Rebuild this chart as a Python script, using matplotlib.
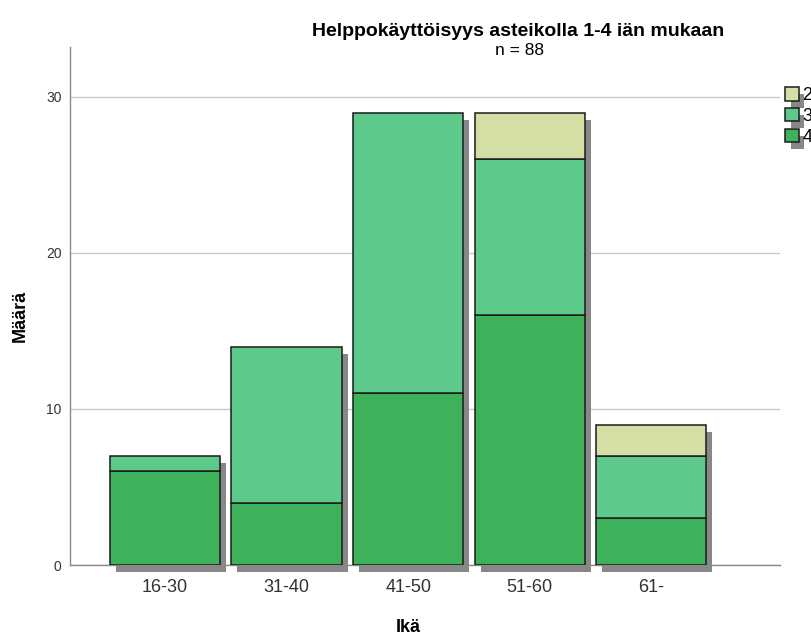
#!/usr/bin/env python3
"""
Helppokäyttöisyys asteikolla 1-4 iän mukaan - stacked bar chart
"""

import numpy as np
import matplotlib
matplotlib.use('Agg')
import matplotlib.pyplot as plt
import matplotlib.transforms as mtransforms
import matplotlib.patheffects as pe

plt.rcParams['font.family'] = ['Liberation Sans', 'DejaVu Sans']

# Data
age_groups = ['16-30', '31-40', '41-50', '51-60', '61-']
score_4 = [6, 4, 11, 16, 3]
score_3 = [1, 10, 18, 10, 4]
score_2 = [0, 0, 0, 3, 2]

colors = {'4': '#3db25a', '3': '#5dca8c', '2': '#d3dfa5'}

fig = plt.figure(figsize=(8.11, 6.35), dpi=100)
ax = fig.add_axes([0.0863, 0.1102, 0.8755, 0.8158])

x = np.arange(len(age_groups))
width = 0.905

s4 = np.array(score_4)
s3 = np.array(score_3)
s2 = np.array(score_2)
totals = s4 + s3 + s2

# Shadows behind the stacks
shadow_tr = mtransforms.offset_copy(ax.transData, fig=fig, x=6, y=-7, units='dots')
ax.bar(x, totals, width, color='#878787', edgecolor='none', transform=shadow_tr,
       zorder=2, clip_on=False)

edge = '#1a1a1a'
b4 = ax.bar(x, s4, width, color=colors['4'], edgecolor=edge, linewidth=1.1, zorder=3, label='4')
b3 = ax.bar(x, s3, width, bottom=s4, color=colors['3'], edgecolor=edge, linewidth=1.1,
            zorder=3, label='3')
mask = s2 > 0
b2 = ax.bar(x[mask], s2[mask], width, bottom=(s4 + s3)[mask], color=colors['2'],
            edgecolor=edge, linewidth=1.1, zorder=3, label='2')

ax.set_xlim(-0.78, 5.057)
ax.set_ylim(0, 33.2)
ax.set_yticks([0, 10, 20, 30])
ax.set_xticks(x)
ax.set_xticklabels(age_groups, fontsize=13, color='#333333')
ax.tick_params(axis='y', length=0, labelsize=10, pad=6, colors='#333333')
ax.tick_params(axis='x', length=0, pad=10)
ax.yaxis.grid(True, color='#c8c8c8', linewidth=1.0, zorder=0)
ax.set_axisbelow(True)

for side in ['top', 'right']:
    ax.spines[side].set_visible(False)
for side in ['left', 'bottom']:
    ax.spines[side].set_color('#888888')
    ax.spines[side].set_linewidth(1.0)

ax.set_ylabel('Määrä', fontsize=13, fontweight='bold')
ax.yaxis.set_label_coords(-0.058, 0.48)
ax.set_xlabel('Ikä', fontsize=13, fontweight='bold')
ax.xaxis.set_label_coords(0.476, -0.104)

fig.text(0.639, 0.951, 'Helppokäyttöisyys asteikolla 1-4 iän mukaan', ha='center',
         va='center', fontsize=14, fontweight='bold')
fig.text(0.641, 0.920, 'n = 88', ha='center', va='center', fontsize=12.5)

leg = ax.legend(handles=[b2, b3, b4], labels=['2', '3', '4'], loc='upper left',
                bbox_to_anchor=(1.007, 0.922), frameon=False, handlelength=0.75,
                handleheight=0.75, handletextpad=0.2, labelspacing=0.2,
                borderaxespad=0, borderpad=0, fontsize=13)
for p in leg.get_patches():
    p.set_path_effects([pe.SimplePatchShadow(offset=(4, -5), shadow_rgbFace='#878787', alpha=1),
                        pe.Normal()])

plt.savefig('out.png', dpi=100)
